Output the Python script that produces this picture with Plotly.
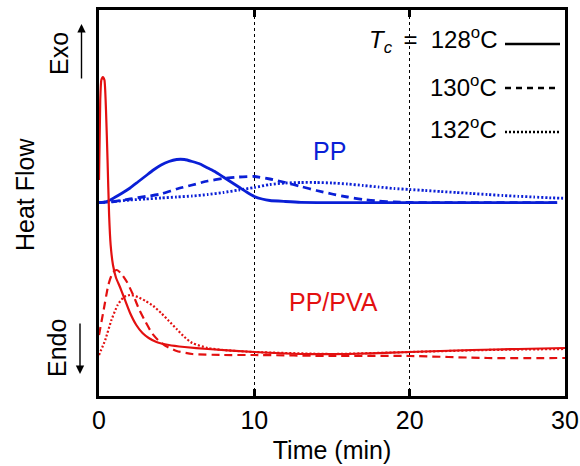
import plotly.graph_objects as go

# ---------------- data (heat flow in arbitrary units) ----------------
t_pp128 = [0, 0.5, 1, 1.5, 2, 2.5, 3, 3.5, 4, 4.5, 5, 5.5, 6, 6.5, 7, 7.5, 8, 8.5, 9, 9.5, 10, 10.5, 11, 12, 13, 15, 20, 25, 29.5]
hf_pp128 = [193.3, 194.5, 198.5, 203, 208, 214, 220, 226, 231, 234.5, 236.5, 236.5, 234.5, 232, 228, 224, 219, 214, 209, 204, 199.5, 197, 195.5, 194.5, 193.7, 193.3, 193.3, 193.3, 193.3]

t_pp130 = [0, 1, 2, 3, 4, 5, 6, 7, 8, 9, 10, 11, 12, 13, 14, 15, 16, 17, 18, 19, 20, 22, 25, 29.5]
hf_pp130 = [193.3, 194.5, 197, 199.5, 202, 207, 211, 215, 217.5, 219, 219.5, 217, 213.5, 209.5, 205.5, 202, 199, 196.5, 195, 194, 193.5, 193.3, 193.3, 193.3]

t_pp132 = list(range(0, 31))
hf_pp132 = [193.3, 194.5, 196, 197, 198, 199, 200, 201.5, 203.5, 206, 208.5, 211.5, 213, 213.5, 213.5, 213, 212, 210.5, 209, 207.5, 206.5, 205.5, 204.5, 203.5, 202.5, 201.5, 200.5, 199.7, 199, 198.2, 197.7]

t_pva128 = [0, 0.08, 0.15, 0.25, 0.35, 0.45, 0.55, 0.65, 0.75, 0.9, 1.1, 1.35, 1.6, 2, 2.4, 2.8, 3.2, 3.7, 4.5, 5.5, 7, 10, 13, 16, 20, 24, 27, 30]
hf_pva128 = [216, 296, 316, 319, 316, 286, 236, 181, 151, 131, 118, 109, 99, 83, 71, 63, 58, 54, 51, 49, 47, 44, 42, 42, 44, 46, 47, 48]

t_pva130 = [0, 0.3, 0.6, 0.9, 1.15, 1.4, 1.8, 2.2, 2.6, 3, 3.4, 3.8, 4.3, 5, 6, 8, 10, 15, 20, 25, 30]
hf_pva130 = [61, 86, 111, 124, 126, 123, 114, 101, 86, 74, 63, 56, 50, 45, 42, 41, 41, 40, 40, 38, 38]

t_pva132 = [0, 0.4, 0.8, 1.2, 1.6, 2, 2.5, 3, 3.5, 4, 4.5, 5, 5.5, 6, 7, 8, 10, 15, 20, 25, 30]
hf_pva132 = [41, 56, 76, 91, 99, 101, 99, 95, 90, 83, 75, 67, 59, 53, 48, 46, 44, 42, 44, 46, 47]

x_ticks = [0, 10, 20, 30]
legend_labels = ["128<sup>o</sup>C", "130<sup>o</sup>C", "132<sup>o</sup>C"]

# ---------------- styling ----------------
BLUE = "#0a1fd6"
RED = "#e31010"
FONT = "Liberation Sans, Arial, sans-serif"
W, H = 580, 466
ML, MR, MT, MB = 99, 15, 10, 70
PW, PH = W - ML - MR, H - MT - MB

def px(xp):
    return (xp - ML) / PW

def py(yp):
    return (H - MB - yp) / PH

DASH = "8px,5px"
DOT = "2px,2px"

fig = go.Figure()
series = [
    (t_pp128, hf_pp128, BLUE, "solid", 2.8),
    (t_pp130, hf_pp130, BLUE, DASH, 2.8),
    (t_pp132, hf_pp132, BLUE, DOT, 2.8),
    (t_pva128, hf_pva128, RED, "solid", 2.2),
    (t_pva130, hf_pva130, RED, DASH, 2.2),
    (t_pva132, hf_pva132, RED, DOT, 2.2),
]
for tx, hy, col, dash, w in series:
    fig.add_trace(go.Scatter(x=tx, y=hy, mode="lines",
                             line=dict(color=col, dash=dash, width=w, shape="spline", smoothing=0.5),
                             showlegend=False, hoverinfo="skip"))

fig.update_xaxes(range=[0, 30], tickvals=x_ticks, ticks="inside", ticklen=7, tickwidth=2.5,
                 tickcolor="black", showline=True, linecolor="black", linewidth=2.5, mirror="ticks",
                 showgrid=True, gridcolor="black", gridwidth=1, griddash="dot", automargin=False,
                 zeroline=False, tickfont=dict(size=25, color="black", family=FONT),
                 title=dict(text="Time (min)", font=dict(size=25, color="black", family=FONT), standoff=9))
fig.update_yaxes(range=[0, 386], showticklabels=False, ticks="", showgrid=False, zeroline=False,
                 showline=True, linecolor="black", linewidth=2.5, mirror=True, automargin=False)

# white box behind legend text (hides the grid line there)
fig.add_shape(type="rect", xref="paper", yref="paper", x0=px(360), x1=px(563), y0=py(73), y1=py(20),
              fillcolor="white", line=dict(width=0), layer="between")

ann = []
ann.append(dict(text="<i>T</i><sub><i>c</i>&nbsp;</sub>&nbsp;=&nbsp;&nbsp;" + legend_labels[0], x=px(499), y=py(40)))
ann.append(dict(text=legend_labels[1], x=px(499), y=py(86)))
ann.append(dict(text=legend_labels[2], x=px(499), y=py(128)))
for a in ann:
    fig.add_annotation(xref="paper", yref="paper", xanchor="right", yanchor="middle", showarrow=False,
                       font=dict(size=24, color="black", family=FONT), **a)

for yy, dash in [(44, "solid"), (88, "6px,5px"), (132, "2px,2px")]:
    fig.add_shape(type="line", xref="paper", yref="paper", x0=px(505), x1=px(560), y0=py(yy), y1=py(yy),
                  line=dict(color="black", width=2.5, dash=dash))

fig.add_annotation(text="PP", xref="paper", yref="paper", x=px(329), y=py(151), showarrow=False,
                   font=dict(size=25, color=BLUE, family=FONT))
fig.add_annotation(text="PP/PVA", xref="paper", yref="paper", x=px(333), y=py(318), showarrow=False,
                   font=dict(size=25, color=RED, family=FONT))

# side labels
for txt, xx, yy in [("Exo", 59, 54), ("Heat Flow", 25, 195), ("Endo", 57, 348)]:
    fig.add_annotation(text=txt, xref="paper", yref="paper", x=px(xx), y=py(yy), textangle=-90,
                       xanchor="center", yanchor="middle", showarrow=False,
                       font=dict(size=25, color="black", family=FONT))

# arrows
fig.add_annotation(text="", xref="paper", yref="paper", x=px(81.5), y=py(24), ax=0, ay=56,
                   showarrow=True, arrowhead=2, arrowsize=1.2, arrowwidth=1.4, arrowcolor="black")
fig.add_annotation(text="", xref="paper", yref="paper", x=px(80), y=py(374), ax=0, ay=-52,
                   showarrow=True, arrowhead=2, arrowsize=1.2, arrowwidth=1.4, arrowcolor="black")

fig.update_layout(width=W, height=H, margin=dict(l=ML, r=MR, t=MT, b=MB),
                  paper_bgcolor="white", plot_bgcolor="white", font=dict(family=FONT))

fig.write_html("out.html")
